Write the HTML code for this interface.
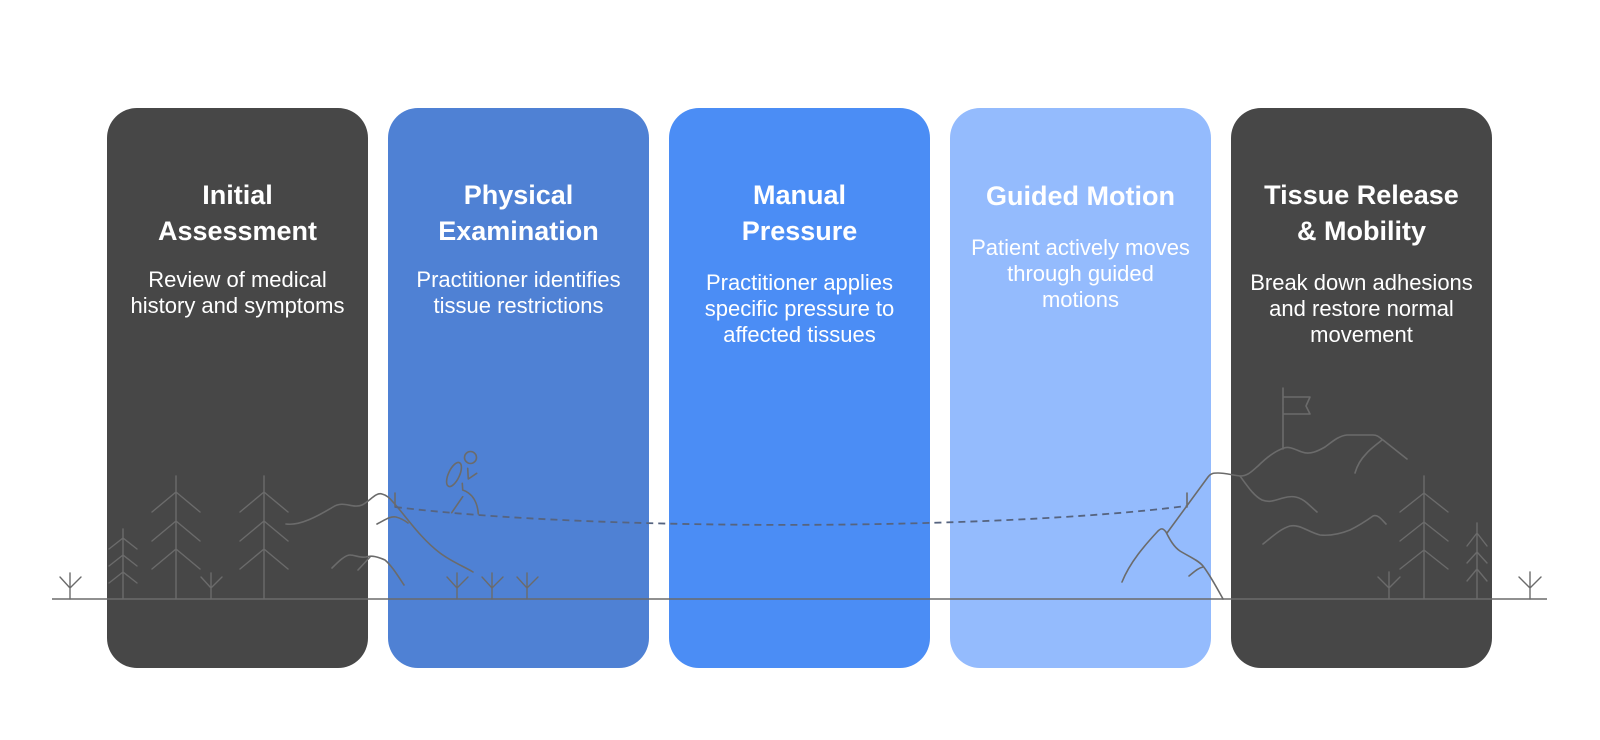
<!DOCTYPE html>
<html><head><meta charset="utf-8"><style>
html,body{margin:0;padding:0;background:#fff;}
svg{display:block;}
.t{font-family:"Liberation Sans",Arial,sans-serif;font-weight:bold;font-size:27px;fill:#fff;text-anchor:middle;}
.d{font-family:"Liberation Sans",Arial,sans-serif;font-size:22px;fill:#fff;text-anchor:middle;}
.ln{fill:none;stroke:#6b6b6b;stroke-width:1.6;stroke-linecap:round;stroke-linejoin:round;}
.tr{fill:none;stroke:#6b6b6b;stroke-width:1.4;stroke-linecap:round;stroke-linejoin:round;}
</style></head><body>
<svg width="1600" height="740" viewBox="0 0 1600 740" xmlns="http://www.w3.org/2000/svg">
<rect x="0" y="0" width="1600" height="740" fill="#fff"/>
<!-- cards -->
<rect x="107" y="108" width="261" height="560" rx="30" fill="#474747"/>
<rect x="388" y="108" width="261" height="560" rx="30" fill="#4f81d4"/>
<rect x="669" y="108" width="261" height="560" rx="30" fill="#4b8df5"/>
<rect x="950" y="108" width="261" height="560" rx="30" fill="#94bbfd"/>
<rect x="1231" y="108" width="261" height="560" rx="30" fill="#474747"/>

<!-- texts -->
<text class="t" x="237.5" y="204">Initial</text>
<text class="t" x="237.5" y="240">Assessment</text>
<text class="d" x="237.5" y="287">Review of medical</text>
<text class="d" x="237.5" y="313">history and symptoms</text>

<text class="t" x="518.5" y="204">Physical</text>
<text class="t" x="518.5" y="240">Examination</text>
<text class="d" x="518.5" y="287">Practitioner identifies</text>
<text class="d" x="518.5" y="313">tissue restrictions</text>

<text class="t" x="799.5" y="204">Manual</text>
<text class="t" x="799.5" y="240">Pressure</text>
<text class="d" x="799.5" y="290">Practitioner applies</text>
<text class="d" x="799.5" y="316">specific pressure to</text>
<text class="d" x="799.5" y="342">affected tissues</text>

<text class="t" x="1080.5" y="205">Guided Motion</text>
<text class="d" x="1080.5" y="255">Patient actively moves</text>
<text class="d" x="1080.5" y="281">through guided</text>
<text class="d" x="1080.5" y="307">motions</text>

<text class="t" x="1361.5" y="204">Tissue Release</text>
<text class="t" x="1361.5" y="240">&amp; Mobility</text>
<text class="d" x="1361.5" y="290">Break down adhesions</text>
<text class="d" x="1361.5" y="316">and restore normal</text>
<text class="d" x="1361.5" y="342">movement</text>

<!-- ground -->
<line x1="52" y1="599" x2="1547" y2="599" stroke="#6b6b6b" stroke-width="1.6"/>

<!-- grasses -->
<g class="tr">
<path d="M70,573 L70,599 M60,577 L70,588 L81,577"/>
<path d="M211,573 L211,599 M201,577 L211,588 L222,577"/>
<path d="M457,573 L457,599 M447,577 L457,588 L468,577"/>
<path d="M492,573 L492,599 M482,577 L492,588 L503,577"/>
<path d="M527,573 L527,599 M517,577 L527,588 L538,577"/>
<path d="M1389,572 L1389,599 M1378,577 L1389,588 L1400,577"/>
<path d="M1530,572 L1530,599 M1519,577 L1530,588 L1541,577"/>
</g>

<!-- trees -->
<g class="tr">
<path d="M123,529 L123,599 M109,549 L123,538 L137,549 M109,566 L123,555 L137,566 M109,583 L123,572 L137,583"/>
<path d="M176,476 L176,599 M152,512 L176,492 L200,512 M152,541 L176,521 L200,541 M152,569 L176,549 L200,569"/>
<path d="M264,476 L264,599 M240,512 L264,492 L288,512 M240,541 L264,521 L288,541 M240,569 L264,549 L288,569"/>
<path d="M1424,476 L1424,599 M1400,512 L1424,493 L1448,512 M1400,541 L1424,522 L1448,541 M1400,569 L1424,550 L1448,569"/>
<path d="M1477,523 L1477,599 M1467,546 L1477,533 L1487,546 M1467,563 L1477,552 L1487,563 M1467,581 L1477,569 L1487,581"/>
</g>

<!-- left hills -->
<g class="ln">
<path d="M286,524 C300,526 318,516 333,507 C344,500 352,509 362,505 C370,501 376,492 382,494 C386,495 389,497 393,502 C405,515 420,538 440,553 C452,562 465,567 473,572"/>
<path d="M377,524 C385,520 390,516 396,517 C400,518 404,520 408,523"/>
<path d="M332,568 C338,562 345,555 350,555 C355,555 360,558 366,557 C372,555 378,557 385,560 C392,566 398,576 404,585"/>
<path d="M358,570 L370,557"/>
<path d="M395,493 L395,507"/>
</g>

<!-- dashed path -->
<path d="M395,507 C600,532 1000,530 1186,506" fill="none" stroke="#566480" stroke-width="1.8" stroke-dasharray="7,5"/>

<!-- hiker -->
<g class="ln">
<circle cx="470.5" cy="457.5" r="6"/>
<ellipse cx="454" cy="474.5" rx="5.5" ry="13" transform="rotate(25 454 474.5)"/>
<path d="M462.3,483.3 L462.7,490 C466,491 471,494 474,499 C477,504 478,509 478.3,514"/>
<path d="M462.7,496.7 L451.7,512.7"/>
<path d="M467.7,468.3 L468.3,479 L476.7,473.3"/>
</g>

<!-- right mountains -->
<g class="ln">
<path d="M1187,493 L1187,507"/>
<path d="M1122,582 C1130,562 1145,545 1158,531 C1161,528 1163,528 1166,532 C1170,540 1174,547 1180,551 C1188,556 1198,560 1203,566 C1210,575 1217,588 1223,599"/>
<path d="M1189,576 C1194,572 1198,568 1203,567"/>
<path d="M1167,533 L1208,477 C1211,473 1214,473 1218,473 C1225,473 1232,475 1240,476 C1248,476 1252,471 1258,466 C1266,458 1275,451 1284,448 C1290,446 1296,450 1302,452 C1310,455 1318,451 1325,447 C1332,442 1338,436 1347,435 L1373,435 C1378,435 1380,438 1383,440 L1407,459"/>
<path d="M1382,440 C1376,445 1370,449 1366,454 C1360,460 1357,466 1355,473"/>
<path d="M1240,476 C1248,487 1254,496 1262,500 C1270,503 1276,500 1283,498 C1293,495 1300,497 1307,503 L1317,512"/>
<path d="M1263,544 C1272,537 1280,529 1290,526 C1300,524 1308,532 1320,535 C1330,536 1340,534 1350,530 C1358,526 1366,521 1373,516 C1378,514 1382,520 1386,524"/>
<path d="M1283,449 L1283,388 M1283,397 L1310,397 L1306,406 L1310,414 L1283,414"/>
</g>
</svg>
</body></html>
